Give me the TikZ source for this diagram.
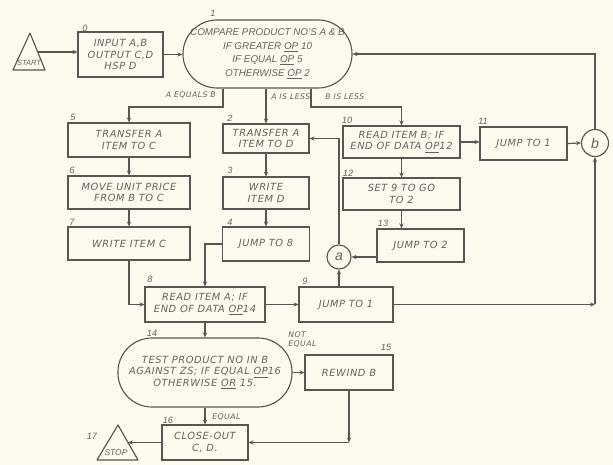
\documentclass[tikz,border=0pt]{standalone}
\usepackage{xcolor}
\usepackage{fontspec}
\setmainfont{Liberation Sans}
\newfontfamily\letterfont[LetterSpace=6]{DejaVu Sans}
\usepackage{tikz}
\usetikzlibrary{arrows.meta}
\usetikzlibrary{positioning, backgrounds}
\definecolor{paper}{RGB}{252, 250, 238}
\definecolor{ink}{RGB}{88, 86, 82}
\definecolor{pencil}{RGB}{100, 99, 95}
\newcommand{\steptext}{\letterfont\fontsize{7}{8.3}\selectfont\itshape}
\newcommand{\comparetext}{\fontsize{7}{8}\selectfont\itshape}
\newcommand{\stepnotext}{\fontsize{6.5}{7}\selectfont\itshape}
\newcommand{\branchtext}{\letterfont\fontsize{5.5}{6.8}\selectfont\itshape}
\newcommand{\op}{\underline{OP}}
\tikzset{
step box/.style = { rectangle, draw = ink, line width = 0.8pt, text = pencil, align = center, inner sep = 1pt, font = \steptext },
decision/.style = { step box, rounded corners = 0.85cm },
connector/.style = { circle, draw = ink, line width = 0.8pt, text = pencil, inner sep = 0pt, font = \fontsize{10}{10}\selectfont\itshape },
terminal/.style = { draw = ink, line width = 0.8pt, line join = round },
step no/.style = { text = pencil, inner sep = 0pt, font = \stepnotext },
branch/.style = { text = pencil, inner sep = 0pt, align = left, font = \branchtext },
flow/.style = { draw = ink, line width = 0.8pt, -{Stealth[length = 3.5pt, width = 3pt]} },
}

\begin{document}
\begin{tikzpicture}[x = 0.025cm, y = -0.025cm]
    \fill[paper] (0, 0) rectangle (613, 465);
    \useasboundingbox (0, 0) rectangle (613, 465);
    \draw[terminal] (13, 70) -- (30, 33) -- (45, 70) -- cycle;
    \node[branch, font = \fontsize{5.3}{6}\selectfont\itshape] (start text) at (29, 63) {START};
    \coordinate (start) at (38, 52);
    \draw[terminal] (97, 460) -- (118, 425) -- (138, 460) -- cycle;
    \node[branch, font = \fontsize{6}{6}\selectfont\itshape] (stop text) at (116, 453) {STOP};
    \coordinate (stop) at (128, 442.5);
    \node[step box, minimum width = 2.125cm, minimum height = 1.125cm] (b0) at (120.5, 54.5) {INPUT A,B\\OUTPUT C,D\\HSP D};
    \node[decision, font = \comparetext, minimum width = 4.225cm, minimum height = 1.7cm] (c1) at (267.5, 54) {COMPARE PRODUCT NO'S A \& B\\[1.5pt]IF GREATER \op{} 10\\[1.5pt]IF EQUAL \op{} 5\\[1.5pt]OTHERWISE \op{} 2};
    \node[step box, minimum width = 3.05cm, minimum height = 0.85cm] (b5) at (129, 140) {TRANSFER A\\ITEM TO C};
    \node[step box, minimum width = 3.05cm, minimum height = 0.825cm] (b6) at (129, 192.5) {MOVE UNIT PRICE\\FROM B TO C};
    \node[step box, minimum width = 3.05cm, minimum height = 0.825cm] (b7) at (129, 243.5) {WRITE ITEM C};
    \node[step box, minimum width = 2.15cm, minimum height = 0.725cm] (b2) at (266, 138.5) {TRANSFER A\\ITEM TO D};
    \node[step box, minimum width = 2.15cm, minimum height = 0.8cm] (b3) at (266, 193) {WRITE\\ITEM D};
    \node[step box, minimum width = 2.175cm, minimum height = 0.85cm] (b4) at (266, 244) {JUMP TO 8};
    \node[step box, minimum width = 2.925cm, minimum height = 0.8cm] (b10) at (401.5, 142) {READ ITEM B; IF\\END OF DATA \op12};
    \node[step box, minimum width = 2.175cm, minimum height = 0.825cm] (b11) at (523.5, 143.5) {JUMP TO 1};
    \node[step box, minimum width = 2.925cm, minimum height = 0.8cm] (b12) at (401.5, 194) {SET 9 TO GO\\TO 2};
    \node[step box, minimum width = 2.175cm, minimum height = 0.825cm] (b13) at (420.5, 245.5) {JUMP TO 2};
    \node[step box, minimum width = 3cm, minimum height = 0.875cm] (b8) at (205, 304.5) {READ ITEM A; IF\\END OF DATA \op14};
    \node[step box, minimum width = 2.35cm, minimum height = 0.875cm] (b9) at (346, 304.5) {JUMP TO 1};
    \node[decision, minimum width = 4.35cm, minimum height = 1.725cm] (c14) at (205, 372.5) {TEST PRODUCT NO IN B\\AGAINST ZS; IF EQUAL \op16\\OTHERWISE \underline{OR} 15.};
    \node[step box, minimum width = 2.2cm, minimum height = 0.875cm] (b15) at (349, 372.5) {REWIND B};
    \node[step box, minimum width = 2.15cm, minimum height = 0.875cm] (b16) at (205, 442.5) {CLOSE-OUT\\C, D.};
    \node[connector, minimum size = 0.6cm] (ca) at (339, 257) {a};
    \node[connector, minimum size = 0.675cm] (cb) at (595, 143) {b};
    \node[step no] (n0) at (85, 28) {0};
    \node[step no] (n1) at (213, 13) {1};
    \node[step no] (n5) at (73, 117) {5};
    \node[step no] (n6) at (72, 170) {6};
    \node[step no] (n7) at (72, 222) {7};
    \node[step no] (n2) at (230, 118) {2};
    \node[step no] (n3) at (230, 170) {3};
    \node[step no] (n4) at (230, 222) {4};
    \node[step no] (n10) at (347, 120) {10};
    \node[step no] (n11) at (483, 121) {11};
    \node[step no] (n12) at (348, 173) {12};
    \node[step no] (n13) at (383, 223) {13};
    \node[step no] (n8) at (150, 279) {8};
    \node[step no] (n9) at (305, 281) {9};
    \node[step no] (n14) at (152, 333) {14};
    \node[step no] (n15) at (386, 347) {15};
    \node[step no] (n16) at (168, 420) {16};
    \node[step no] (n17) at (92, 436) {17};
    \node[branch, anchor = east] (eq lbl) at (216, 95) {A EQUALS B};
    \node[branch, anchor = west] (al lbl) at (271, 97) {A IS LESS};
    \node[branch, anchor = west] (bl lbl) at (325, 97) {B IS LESS};
    \node[branch, anchor = west] (eq2 lbl) at (212, 417) {EQUAL};
    \node[branch, anchor = north west] (ne lbl) at (288, 331) {NOT\\EQUAL};
    \draw[flow] (start) -- (start -| b0.west);
    \draw[flow] (b0.east) -- (b0.east -| c1.west);
    \draw[flow] (c1.south -| 223, 0) -- (223, 107) -| (b5.north);
    \draw[flow] (c1.south -| b2.north) -- (b2.north);
    \draw[flow] (c1.south -| 311, 0) -- (311, 107) -| (b10.north);
    \draw[flow] (b5.south) -- (b6.north);
    \draw[flow] (b6.south) -- (b7.north);
    \draw[flow] (b7.south) |- (b8.west);
    \draw[flow] (b2.south) -- (b3.north);
    \draw[flow] (b3.south) -- (b4.north);
    \draw[flow] (b4.west) -| (b8.north);
    \draw[flow] (ca.north) |- (b2.east);
    \draw[flow] (ca -| b13.west) -- (ca.east);
    \draw[flow] (ca.south |- b9.north) -- (ca.south);
    \draw[flow] (b8.east) -- (b9.west);
    \coordinate (back turn) at (b9.east -| cb.south);
    \draw[flow] (b9.east) -- (back turn);
    \draw[flow] (back turn) -- (cb.south);
    \draw[flow] (b10.east) -- (b10.east -| b11.west);
    \draw[flow] (b11.east) -- (cb.west);
    \draw[flow] (cb.north) |- (c1.east);
    \draw[flow] (b10.south) -- (b12.north);
    \draw[flow] (b12.south) -- (b12.south |- b13.north);
    \draw[flow] (b8.south) -- (c14.north);
    \draw[flow] (c14.east) -- (c14.east -| b15.west);
    \coordinate (rewind turn) at (b15.south |- b16.east);
    \draw[flow] (b15.south) -- (rewind turn);
    \draw[flow] (rewind turn) -- (b16.east);
    \draw[flow] (c14.south) -- (b16.north);
    \draw[flow] (b16.west) -- (stop);
  \end{tikzpicture}
\end{document}
